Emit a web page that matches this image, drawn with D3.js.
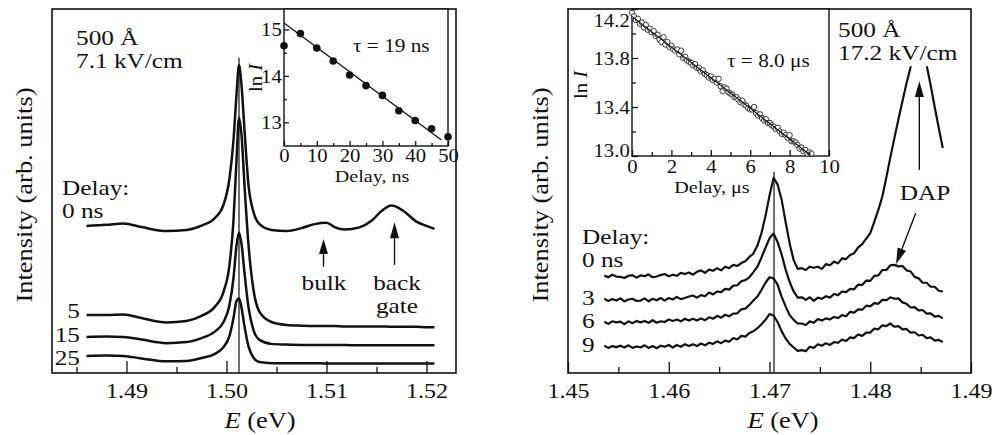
<!DOCTYPE html>
<html>
<head>
<meta charset="utf-8">
<script src="https://cdn.jsdelivr.net/npm/d3@7"></script>
<style>
  body { margin: 0; background: #fff; }
  svg text { font-family: "Liberation Serif", "Times New Roman", serif; fill: #111; }
</style>
</head>
<body>
<div id="chart"></div>
<script>
// ---- left panel: 500 A, 7.1 kV/cm (values in arb. units, 0..100 = frame height)
var leftE = [1.4860,1.4880,1.4897,1.4915,1.4940,1.4960,1.4975,1.4988,1.4997,1.5003,1.5007,1.5010,1.50125,
  1.5015,1.5018,1.5022,1.5027,1.5033,1.5045,1.5060,1.5075,1.5088,1.5100,1.5108,1.5118,1.5133,1.5145,
  1.5155,1.5165,1.5177,1.5190,1.5200,1.5208];
var left0 = [40.4,40.7,41.1,40.1,39.0,39.3,40.5,42.5,46.2,53.5,64.0,76.4,84.6,79.1,66.8,51.6,44.2,40.9,
  39.3,39.0,39.8,40.9,41.3,40.1,39.4,40.0,41.8,44.5,46.0,44.5,41.6,40.4,39.6];
var left5 = [15.9,15.9,16.1,15.1,13.9,14.3,15.7,18.1,22.3,29.7,42.0,58.5,70.1,65.4,51.6,35.2,22.8,16.8,
  14.0,13.2,13.0,12.9,12.9,12.9,12.8,12.8,12.8,12.8,12.7,12.7,12.7,12.6,12.6];
var left15 = [9.9,10.0,9.9,9.2,8.2,8.5,9.6,11.3,14.0,18.7,26.1,35.0,38.6,35.5,27.5,18.0,11.8,9.1,
  8.0,7.8,7.7,7.7,7.7,7.7,7.7,7.6,7.6,7.6,7.6,7.6,7.6,7.6,7.6];
var left25 = [4.7,4.8,4.7,4.0,3.2,3.3,4.1,5.2,7.1,10.2,15.1,19.8,20.5,18.0,12.8,7.3,4.2,3.0,
  2.7,2.7,2.7,2.7,2.6,2.6,2.6,2.6,2.6,2.6,2.6,2.6,2.6,2.6,2.6];
var leftDelays = ["5", "15", "25"];
var leftPeakE = 1.50125;

// left inset: ln I vs delay (ns)
var leftInsetT = [0,5,10,15,20,25,30,35,40,45,50];
var leftInsetLn = [14.65,14.91,14.60,14.32,14.02,13.79,13.58,13.25,13.04,12.86,12.69];
var leftFitT = [0, 48];
var leftFitLn = [15.14, 12.62];

// ---- right panel: 500 A, 17.2 kV/cm
var rightE = [1.4536,1.4540,1.4544,1.4548,1.4552,1.4556,1.4560,1.4564,1.4568,1.4572,
  1.4576,1.4580,1.4584,1.4588,1.4592,1.4596,1.4600,1.4604,1.4608,1.4612,
  1.4616,1.4620,1.4624,1.4628,1.4632,1.4636,1.4640,1.4644,1.4648,1.4652,
  1.4656,1.4660,1.4664,1.4668,1.4672,1.4676,1.4680,1.4684,1.4688,1.4692,
  1.4696,1.4700,1.4704,1.4708,1.4712,1.4716,1.4720,1.4724,1.4728,1.4732,
  1.4736,1.4740,1.4744,1.4748,1.4752,1.4756,1.4760,1.4764,1.4768,1.4772,
  1.4776,1.4780,1.4784,1.4788,1.4792,1.4796,1.4800,1.4804,1.4808,1.4812,
  1.4816,1.4820,1.4824,1.4828,1.4832,1.4836,1.4840,1.4844,1.4848,1.4852,
  1.4856,1.4860,1.4864,1.4868,1.4872];
var right0 = [26.8,26.3,27.0,26.5,26.4,26.1,26.7,26.9,26.2,26.8,
  26.6,27.1,26.3,26.5,26.9,27.2,26.6,27.0,26.7,27.5,
  27.2,27.6,27.0,27.8,28.2,27.5,28.4,28.1,28.8,28.2,
  29.2,28.8,29.7,29.4,30.2,30.7,31.9,32.8,35.0,38.4,
  43.1,48.7,53.6,51.8,47.7,41.5,35.6,31.0,28.6,28.8,
  28.3,29.2,28.9,29.2,28.6,29.9,29.6,30.6,30.1,31.5,
  31.3,32.4,32.9,34.5,35.4,36.9,38.4,41.5,44.8,48.5,
  53.8,59.3,64.6,69.7,74.7,79.6,84.0,92.0,95.0,93.0,
  84.5,79.0,73.0,67.3,61.8];
var right3 = [20.4,19.8,20.3,19.9,20.5,19.7,20.2,20.4,19.8,19.9,
  20.5,19.7,20.4,20.0,20.6,19.9,20.6,20.2,20.9,20.3,
  20.6,21.0,21.3,20.7,21.4,21.1,22.1,21.6,22.4,22.2,
  23.1,22.9,24.0,24.1,25.2,25.5,26.3,27.7,29.2,31.7,
  34.4,37.0,38.3,36.0,32.6,28.4,25.0,22.4,20.7,20.8,
  20.1,20.8,19.8,20.7,20.4,21.1,20.7,21.7,21.4,22.4,
  22.2,23.1,23.0,24.3,24.2,25.4,25.3,26.7,26.8,28.3,
  28.3,29.6,29.7,29.3,29.4,28.2,27.9,26.4,26.0,24.8,
  24.8,23.7,23.7,22.6,22.4];
var right6 = [14.1,13.5,14.2,13.9,14.1,13.4,14.2,13.7,14.3,13.9,
  14.3,13.8,14.5,13.8,14.2,14.0,14.7,14.3,14.7,14.2,
  14.9,14.4,14.9,14.4,15.0,14.5,15.3,14.9,15.7,15.2,
  16.0,15.6,16.3,16.4,17.5,17.7,18.7,19.9,21.0,22.8,
  24.8,26.3,26.0,24.3,21.0,18.3,15.9,14.6,13.6,13.6,
  13.2,14.2,13.8,14.8,14.4,15.0,14.7,15.4,15.1,15.9,
  15.6,16.8,16.6,17.5,17.4,18.5,18.3,19.2,19.0,20.1,
  20.0,20.8,20.4,20.5,19.4,19.0,18.0,18.1,17.2,17.3,
  16.3,16.4,15.5,15.7,15.0];
var right9 = [7.5,6.9,7.4,7.1,7.5,7.0,7.6,6.9,7.3,7.0,
  7.6,6.9,7.4,6.8,7.5,7.2,7.7,7.0,7.7,7.2,
  7.9,7.4,7.9,7.4,8.1,7.6,8.3,8.0,8.7,8.2,
  8.9,8.6,9.6,9.2,10.2,10.0,11.0,11.5,12.3,13.4,
  14.6,16.2,15.8,14.0,11.5,9.5,8.0,7.0,6.1,6.3,
  6.0,7.2,6.9,7.9,7.5,8.2,7.7,8.5,8.3,9.2,
  8.8,9.8,9.6,10.6,10.2,11.1,11.1,12.2,12.0,13.1,
  12.9,13.6,12.7,12.9,12.0,12.1,11.1,11.2,10.3,10.5,
  9.6,9.8,8.9,9.1,8.5];
var rightDelays = ["3", "6", "9"];
var rightPeakE = 1.47045;

// right inset: ln I vs delay (us)
var rightInsetT = [0.0,0.1,0.2,0.3,0.4,0.5,0.6,0.7,0.8,0.9,1.0,1.1,1.2,1.3,1.4,1.5,1.6,1.7,1.8,1.9,
  2.0,2.1,2.2,2.3,2.4,2.5,2.6,2.7,2.8,2.9,3.0,3.1,3.2,3.3,3.4,3.5,3.6,3.7,3.8,3.9,
  4.0,4.1,4.2,4.3,4.4,4.5,4.6,4.7,4.8,4.9,5.0,5.1,5.2,5.3,5.4,5.5,5.6,5.7,5.8,5.9,
  6.0,6.1,6.2,6.3,6.4,6.5,6.6,6.7,6.8,6.9,7.0,7.1,7.2,7.3,7.4,7.5,7.6,7.7,7.8,7.9,
  8.0,8.1,8.2,8.3,8.4,8.5,8.6,8.7,8.8,8.9,9.0,9.1];
var rightInsetLn = [14.17,14.14,14.11,14.12,14.08,14.09,14.05,14.07,14.03,14.04,14.01,14.02,13.98,13.99,13.95,13.93,13.97,13.91,13.93,13.89,
  13.90,13.87,13.86,13.87,13.83,13.86,13.80,13.81,13.78,13.77,13.76,13.74,13.75,13.72,13.72,13.69,13.70,13.67,13.66,13.64,
  13.65,13.62,13.63,13.60,13.63,13.57,13.53,13.56,13.55,13.52,13.51,13.50,13.48,13.48,13.46,13.44,13.45,13.42,13.41,13.39,
  13.38,13.38,13.40,13.35,13.33,13.34,13.31,13.29,13.30,13.27,13.27,13.25,13.24,13.22,13.23,13.20,13.18,13.19,13.17,13.15,
  13.17,13.12,13.12,13.11,13.09,13.06,13.07,13.04,13.05,13.02,13.03,13.02];
var rightFitT = [0, 9.0];
var rightFitLn = [14.14, 13.015];

// ---------------------------------------------------------------
var SX = 1.15; // glyphs in the scan are a bit wider than Liberation Serif
var ink = "#111";

var svg = d3.select("#chart").append("svg")
    .attr("width", 998)
    .attr("height", 435);

function label(x, y, parts, size, anchor, rot) {
    var t = svg.append("text")
        .attr("transform", "translate(" + x + "," + y + ")" + (rot ? " rotate(" + rot + ")" : "") + " scale(" + SX + ",1)")
        .attr("font-size", size)
        .attr("text-anchor", anchor || "start");
    if (typeof parts === "string") parts = [[parts, false]];
    parts.forEach(function (p) {
        t.append("tspan").attr("font-style", p[1] ? "italic" : null).text(p[0]);
    });
}

function frame(x0, y0, x1, y1, w, fill) {
    svg.append("rect")
        .attr("x", x0).attr("y", y0)
        .attr("width", x1 - x0).attr("height", y1 - y0)
        .attr("fill", fill || "none")
        .attr("stroke", ink)
        .attr("stroke-width", w);
}

// inward ticks; labels optional
function axisTicks(axisFn, scale, vals, len, tx, ty, fmt, fontSize, textPos) {
    var a = axisFn(scale).tickValues(vals).tickSize(-len).tickSizeOuter(0);
    a.tickFormat(fmt ? fmt : "");
    var g = svg.append("g")
        .attr("transform", "translate(" + tx + "," + ty + ")")
        .call(a)
        .attr("color", ink)
        .attr("font-family", null)
        .attr("font-size", fontSize || 10);
    g.select(".domain").remove();
    g.selectAll("line").attr("stroke-width", 1.3);
    if (fmt) {
        var t = g.selectAll("text").attr("transform", "scale(" + SX + ",1)");
        if (textPos) textPos(t);
    }
    return g;
}

function arrow(x0, y0, x1, y1, headLen, headW) {
    var dx = x1 - x0, dy = y1 - y0, L = Math.sqrt(dx * dx + dy * dy);
    var ux = dx / L, uy = dy / L;
    var bx = x1 - ux * headLen, by = y1 - uy * headLen;
    svg.append("line")
        .attr("x1", x0).attr("y1", y0).attr("x2", bx).attr("y2", by)
        .attr("stroke", ink).attr("stroke-width", 1.4);
    svg.append("polygon")
        .attr("points", [[x1, y1], [bx - uy * headW, by + ux * headW], [bx + uy * headW, by - ux * headW]].map(function (p) { return p.join(","); }).join(" "))
        .attr("fill", ink);
}

// ================= LEFT PANEL =================
var xL = d3.scaleLinear().domain([1.48255, 1.52295]).range([52, 456]);
var yL = d3.scaleLinear().domain([0, 100]).range([373, 9]);

var lineL = d3.line()
    .x(function (d) { return xL(d[0]); })
    .y(function (d) { return yL(d[1]); })
    .curve(d3.curveMonotoneX);

[left0, left5, left15, left25].forEach(function (vals) {
    svg.append("path")
        .datum(leftE.map(function (e, i) { return [e, vals[i]]; }))
        .attr("d", lineL)
        .attr("fill", "none")
        .attr("stroke", ink)
        .attr("stroke-width", 2.5)
        .attr("stroke-linejoin", "round");
});

svg.append("line")
    .attr("x1", xL(leftPeakE)).attr("x2", xL(leftPeakE))
    .attr("y1", yL(d3.max(left0) + 2)).attr("y2", yL(0))
    .attr("stroke", ink).attr("stroke-width", 1.2);

frame(52, 9, 456, 373, 1.6);
axisTicks(d3.axisBottom, xL, [1.485, 1.495, 1.505, 1.515], 6, 0, 373);
axisTicks(d3.axisBottom, xL, [1.49, 1.50, 1.51, 1.52], 12, 0, 373, d3.format(".2f"), 21,
    function (t) { t.attr("y", 25).attr("dy", null); });

label(76, 45, "500 Å", 22);
label(76, 68, "7.1 kV/cm", 22);
label(62, 195, "Delay:", 22);
label(62, 218, "0 ns", 22);
[318, 342, 365].forEach(function (by, i) { label(80, by, leftDelays[i], 22, "end"); });
label(324, 290, "bulk", 22, "middle");
label(397, 290, "back", 22, "middle");
label(397, 313, "gate", 22, "middle");
arrow(xL(1.5097), yL(29.2), xL(1.5097), yL(36.8), 15, 4.5);
arrow(xL(1.5168), yL(29.7), xL(1.5168), yL(41.4), 16, 4.5);
label(32, 195, "Intensity (arb. units)", 23, "middle", -90);
label(260, 428, [["E", true], [" (eV)", false]], 23, "middle");

// left inset
var xLi = d3.scaleLinear().domain([0, 50]).range([284, 448]);
var yLi = d3.scaleLinear().domain([12.49, 15.44]).range([146, 9]);
frame(284, 9, 448, 146, 1.4, "#fff");
svg.append("path")
    .datum(leftFitT.map(function (t, i) { return [t, leftFitLn[i]]; }))
    .attr("d", d3.line().x(function (d) { return xLi(d[0]); }).y(function (d) { return yLi(d[1]); }))
    .attr("stroke", ink).attr("stroke-width", 1.3).attr("fill", "none");
svg.append("g").selectAll("circle")
    .data(leftInsetT.map(function (t, i) { return [t, leftInsetLn[i]]; }))
    .join("circle")
    .attr("cx", function (d) { return xLi(d[0]); })
    .attr("cy", function (d) { return yLi(d[1]); })
    .attr("r", 3.8)
    .attr("fill", ink);
axisTicks(d3.axisBottom, xLi, [5, 15, 25, 35, 45], 3, 0, 146);
axisTicks(d3.axisBottom, xLi, [0, 10, 20, 30, 40, 50], 5, 0, 146, d3.format("d"), 18,
    function (t) { t.attr("y", 16).attr("dy", null); });
axisTicks(d3.axisLeft, yLi, [13.5, 14.5], 3, 284, 0);
axisTicks(d3.axisLeft, yLi, [13, 14, 15], 5, 284, 0, d3.format("d"), 18,
    function (t) { t.attr("x", -2).attr("dy", "0.34em"); });
label(353, 52, "τ = 19 ns", 18.5);
label(262, 78, [["ln ", false], ["I", true]], 18, "middle", -90);
label(372, 182, "Delay, ns", 17.5, "middle");

// ================= RIGHT PANEL =================
var xR = d3.scaleLinear().domain([1.45, 1.49]).range([568, 971]);
var yR = d3.scaleLinear().domain([0, 100]).range([373, 9]);

svg.append("clipPath").attr("id", "clipR")
    .append("rect")
    .attr("x", 568).attr("y", yR(84.3))
    .attr("width", 403).attr("height", yR(0) - yR(84.3));

var lineR = d3.line()
    .x(function (d) { return xR(d[0]); })
    .y(function (d) { return yR(d[1]); });

[right0, right3, right6, right9].forEach(function (vals) {
    svg.append("path")
        .datum(rightE.map(function (e, i) { return [e, vals[i]]; }))
        .attr("d", lineR)
        .attr("clip-path", "url(#clipR)")
        .attr("fill", "none")
        .attr("stroke", ink)
        .attr("stroke-width", 2.2)
        .attr("stroke-linejoin", "round");
});

svg.append("line")
    .attr("x1", xR(rightPeakE)).attr("x2", xR(rightPeakE))
    .attr("y1", yR(55.3)).attr("y2", yR(0))
    .attr("stroke", ink).attr("stroke-width", 1.2);

frame(568, 9, 971, 373, 1.6);
axisTicks(d3.axisBottom, xR, [1.455, 1.465, 1.475, 1.485], 6, 0, 373);
axisTicks(d3.axisBottom, xR, [1.45, 1.46, 1.47, 1.48, 1.49], 11, 0, 373, d3.format(".2f"), 21,
    function (t) { t.attr("y", 25).attr("dy", null); });

label(838, 37, "500 Å", 22);
label(838, 60, "17.2 kV/cm", 22);
label(582, 244, "Delay:", 22);
label(582, 267, "0 ns", 22);
[305, 328, 352].forEach(function (by, i) { label(582, by, rightDelays[i], 22); });
label(925, 200, "DAP", 22, "middle");
arrow(xR(1.48487), yR(55.8), xR(1.48487), yR(80.2), 16, 4.5);
arrow(xR(1.48451), yR(43.9), xR(1.48256), yR(29.9), 16, 4.5);
label(548, 195, "Intensity (arb. units)", 23, "middle", -90);
label(783, 428, [["E", true], [" (eV)", false]], 23, "middle");

// right inset
var xRi = d3.scaleLinear().domain([0, 10]).range([632, 829]);
var yRi = d3.scaleLinear().domain([13.0, 14.2]).range([156, 9]);
frame(632, 9, 829, 156, 1.4, "#fff");
svg.append("g").selectAll("circle")
    .data(rightInsetT.map(function (t, i) { return [t, rightInsetLn[i]]; }))
    .join("circle")
    .attr("cx", function (d) { return xRi(d[0]); })
    .attr("cy", function (d) { return yRi(d[1]); })
    .attr("r", 2.7)
    .attr("fill", "#fff")
    .attr("stroke", "#222")
    .attr("stroke-width", 0.9);
svg.append("path")
    .datum(rightFitT.map(function (t, i) { return [t, rightFitLn[i]]; }))
    .attr("d", d3.line().x(function (d) { return xRi(d[0]); }).y(function (d) { return yRi(d[1]); }))
    .attr("stroke", ink).attr("stroke-width", 1.2).attr("fill", "none");
axisTicks(d3.axisBottom, xRi, [1, 3, 5, 7, 9], 4, 0, 156);
axisTicks(d3.axisBottom, xRi, [0, 2, 4, 6, 8, 10], 6, 0, 156, d3.format("d"), 18,
    function (t) { t.attr("y", 17).attr("dy", null); });
axisTicks(d3.axisLeft, yRi, [13.2, 13.6, 14.0], 4, 632, 0);
axisTicks(d3.axisLeft, yRi, [13.0, 13.4, 13.8, 14.2], 6, 632, 0, d3.format(".1f"), 18,
    function (t) {
        t.attr("x", -2).attr("dy", function (d) {
            return d === 14.2 ? "0.95em" : (d === 13.0 ? "0.0em" : "0.34em");
        });
    });
label(727, 67, "τ = 8.0 μs", 18.5);
label(587, 85, [["ln ", false], ["I", true]], 18, "middle", -90);
label(712, 193, "Delay, μs", 17.5, "middle");
</script>
</body>
</html>
